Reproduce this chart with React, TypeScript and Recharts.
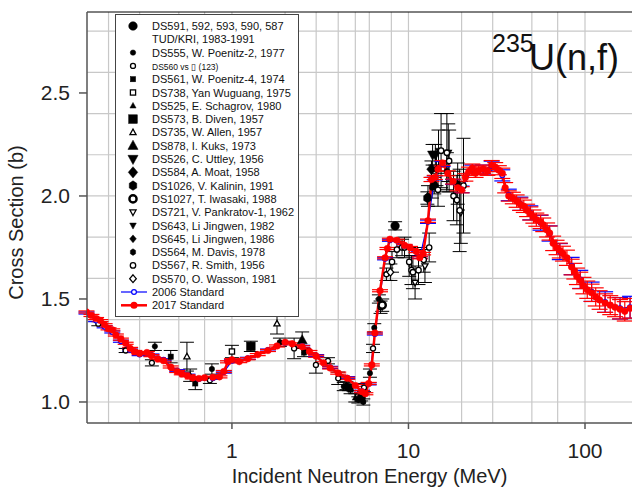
import React from 'react';
import { ComposedChart, Line, Scatter, XAxis, YAxis, CartesianGrid, ErrorBar, ReferenceLine } from 'recharts';

const FONT = '"Liberation Sans", Arial, sans-serif';
const X_MIN = 0.151;
const X_MAX = 184.6;
const Y_MIN = 0.898;
const Y_MAX = 2.893;

const xTicks = [1, 10, 100];
const yTicks = [1.0, 1.5, 2.0, 2.5];
const gridX = [0.2, 0.3, 0.4, 0.5, 0.6, 0.7, 0.8, 0.9, 1, 2, 3, 4, 5, 6, 7, 8, 9, 10, 20, 30, 40, 50, 60, 70, 80, 90, 100];
const gridY = [1.0, 1.1, 1.2, 1.3, 1.4, 1.5, 1.6, 1.7, 1.8, 1.9, 2.0, 2.1, 2.2, 2.3, 2.4, 2.5, 2.6, 2.7, 2.8];

// [energy MeV, cross section b, uncertainty]
const std2017 = [
  [0.15, 1.437, 0.005], [0.16, 1.42, 0.005], [0.17, 1.405, 0.005], [0.18, 1.395, 0.005], [0.19, 1.375, 0.005],
  [0.2, 1.355, 0.005], [0.21, 1.35, 0.005], [0.22, 1.325, 0.005], [0.235, 1.305, 0.005], [0.25, 1.285, 0.005],
  [0.265, 1.26, 0.005], [0.28, 1.245, 0.005], [0.3, 1.235, 0.005], [0.33, 1.24, 0.005], [0.35, 1.225, 0.005],
  [0.38, 1.21, 0.005], [0.41, 1.2, 0.005], [0.45, 1.17, 0.005], [0.49, 1.148, 0.005], [0.52, 1.137, 0.005],
  [0.56, 1.127, 0.005], [0.6, 1.117, 0.005], [0.65, 1.114, 0.005], [0.7, 1.118, 0.005], [0.78, 1.12, 0.005],
  [0.85, 1.122, 0.005], [0.9, 1.148, 0.005], [0.95, 1.195, 0.005], [1.0, 1.205, 0.005], [1.1, 1.196, 0.005],
  [1.23, 1.21, 0.005], [1.4, 1.23, 0.005], [1.6, 1.25, 0.005], [1.8, 1.272, 0.005], [2.0, 1.29, 0.005],
  [2.2, 1.282, 0.005], [2.5, 1.268, 0.005], [2.75, 1.245, 0.005], [3.0, 1.222, 0.005], [3.3, 1.19, 0.005],
  [3.6, 1.165, 0.005], [4.0, 1.14, 0.005], [4.5, 1.115, 0.005], [5.0, 1.08, 0.005], [5.45, 1.05, 0.005],
  [5.7, 1.04, 0.005], [5.95, 1.09, 0.005], [6.2, 1.18, 0.005], [6.45, 1.335, 0.005], [6.9, 1.54, 0.005],
  [7.37, 1.7, 0.005], [7.6, 1.745, 0.005], [7.85, 1.79, 0.005], [8.6, 1.785, 0.005], [9.5, 1.76, 0.005],
  [10.2, 1.75, 0.005], [11.1, 1.73, 0.005], [11.6, 1.7, 0.005], [12.1, 1.72, 0.006], [12.9, 1.88, 0.008],
  [13.5, 2.08, 0.01], [14.1, 2.09, 0.01], [14.7, 2.13, 0.01], [15.6, 2.16, 0.012], [16.7, 2.11, 0.012],
  [17.9, 2.07, 0.012], [19.0, 2.04, 0.015], [20.0, 2.03, 0.015], [21.0, 2.09, 0.018], [22.0, 2.12, 0.02],
  [23.0, 2.135, 0.02], [24.0, 2.11, 0.02], [25.0, 2.125, 0.02], [26.5, 2.13, 0.02], [28.0, 2.12, 0.02],
  [29.6, 2.15, 0.022], [31.0, 2.14, 0.022], [32.5, 2.125, 0.022], [34.0, 2.11, 0.025], [35.3, 2.04, 0.025],
  [37.0, 2.0, 0.025], [39.0, 1.99, 0.028], [41.0, 1.975, 0.03], [43.0, 1.96, 0.03], [45.0, 1.95, 0.03],
  [47.0, 1.93, 0.03], [49.0, 1.915, 0.032], [51.0, 1.9, 0.032], [53.0, 1.885, 0.032], [56.0, 1.875, 0.033],
  [58.0, 1.86, 0.033], [61.0, 1.835, 0.034], [63.0, 1.82, 0.034], [66.0, 1.77, 0.035], [69.0, 1.75, 0.035],
  [72.0, 1.735, 0.036], [75.0, 1.72, 0.036], [79.0, 1.7, 0.037], [84.0, 1.655, 0.038], [87.0, 1.635, 0.038],
  [90.0, 1.61, 0.04], [94.0, 1.59, 0.04], [98.0, 1.565, 0.04], [103.0, 1.545, 0.042], [109.0, 1.53, 0.042],
  [115.0, 1.51, 0.044], [121.0, 1.495, 0.045], [130.0, 1.48, 0.045], [139.0, 1.47, 0.046], [148.0, 1.46, 0.046],
  [158.0, 1.45, 0.047], [168.0, 1.44, 0.047], [180.0, 1.455, 0.048],
];

const std2006 = [
  [0.15, 1.432, 0.005], [0.17, 1.395, 0.005], [0.19, 1.365, 0.005], [0.21, 1.34, 0.005], [0.235, 1.295, 0.005],
  [0.265, 1.252, 0.005], [0.3, 1.23, 0.005], [0.35, 1.228, 0.005], [0.41, 1.205, 0.005], [0.49, 1.152, 0.005],
  [0.56, 1.13, 0.005], [0.65, 1.112, 0.005], [0.78, 1.115, 0.005], [0.9, 1.145, 0.005], [1.0, 1.2, 0.005],
  [1.23, 1.212, 0.005], [1.6, 1.252, 0.005], [2.0, 1.288, 0.005], [2.5, 1.27, 0.005], [3.0, 1.225, 0.005],
  [3.6, 1.168, 0.005], [4.5, 1.118, 0.005], [5.45, 1.052, 0.005], [5.95, 1.088, 0.005], [6.45, 1.33, 0.005],
  [7.37, 1.695, 0.005], [7.85, 1.785, 0.005], [9.5, 1.758, 0.005], [11.6, 1.702, 0.005], [12.9, 1.875, 0.008],
  [14.1, 2.088, 0.01], [15.6, 2.155, 0.012], [17.9, 2.068, 0.012], [20.0, 2.032, 0.016], [23.0, 2.13, 0.02],
  [26.5, 2.128, 0.022], [29.6, 2.145, 0.024], [34.0, 2.1, 0.027], [37.0, 2.005, 0.028], [43.0, 1.962, 0.032],
  [49.0, 1.918, 0.034], [56.0, 1.87, 0.036], [63.0, 1.818, 0.037], [72.0, 1.73, 0.039], [84.0, 1.66, 0.042],
  [94.0, 1.595, 0.044], [109.0, 1.535, 0.047], [130.0, 1.485, 0.05], [158.0, 1.455, 0.052], [180.0, 1.46, 0.053],
];

// experimental data sets
const ds591 = [[8.4, 1.855, 0.02], [4.6, 1.07, 0.015], [5.4, 1.02, 0.015], [14.0, 2.05, 0.04]];
const ds555 = [[0.366, 1.27, 0.02], [0.77, 1.16, 0.025], [1.87, 1.29, 0.02], [4.3, 1.075, 0.02], [4.45, 1.08, 0.02], [5.2, 1.01, 0.015], [5.55, 1.0, 0.015], [6.05, 1.14, 0.02], [6.4, 1.36, 0.02], [6.8, 1.5, 0.02], [12.9, 2.0, 0.05], [13.6, 2.04, 0.05]];
const ds560 = [[0.175, 1.38, 0.01], [0.25, 1.25, 0.01], [0.352, 1.19, 0.015], [0.75, 1.105, 0.015], [2.25, 1.26, 0.05], [2.99, 1.18, 0.04], [3.5, 1.2, 0.015], [4.0, 1.115, 0.03], [5.6, 1.07, 0.02], [6.3, 1.26, 0.02], [6.95, 1.46, 0.03], [7.5, 1.62, 0.03]];
const ds561 = [[0.45, 1.22, 0.03], [0.62, 1.09, 0.03], [2.56, 1.24, 0.02], [4.7, 1.06, 0.02]];
const ds738 = [[1.0, 1.245, 0.03]];
const ds525 = [[0.58, 1.13, 0.03], [5.0, 1.02, 0.02]];
const ds573 = [[1.28, 1.27, 0.025]];
const ds735 = [[0.556, 1.22, 0.07], [1.8, 1.38, 0.05]];
const ds878 = [[2.5, 1.3, 0.04]];
const ds526 = [[13.7, 2.2, 0.05], [14.2, 2.2, 0.05]];
const ds584 = [[13.5, 2.13, 0.04]];
const ds1026 = [[12.8, 1.99, 0.03]];
const ds1027 = [[7.1, 1.47, 0.03]];
const ds721 = [[16.8, 2.21, 0.14], [10.9, 1.58, 0.08], [12.4, 1.66, 0.08], [19.8, 1.92, 0.15]];
const ds643 = [[14.8, 2.22, 0.1]];
const ds645 = [[14.4, 2.13, 0.08]];
const ds564 = [[16.5, 2.12, 0.09], [19.0, 2.06, 0.1]];
const ds567 = [[8.07, 1.68, 0.05], [8.6, 1.74, 0.04], [9.2, 1.75, 0.04], [9.5, 1.75, 0.05], [10.1, 1.68, 0.07], [10.4, 1.64, 0.07], [10.6, 1.63, 0.08], [11.4, 1.64, 0.07], [12.2, 1.69, 0.06], [13.1, 1.75, 0.07], [14.7, 2.03, 0.08], [15.3, 2.22, 0.18], [16.5, 2.21, 0.19], [17.0, 2.17, 0.15], [18.0, 2.0, 0.12], [18.8, 1.98, 0.12], [19.5, 1.93, 0.2], [20.5, 2.05, 0.23]];
const ds570 = [[7.9, 1.63, 0.04]];

const rows = (arr: number[][]) => arr.map(([x, y, err]) => ({ x, y, err }));

const expSeries = [
  { name: 'DS591, 592, 593, 590, 587\nTUD/KRI, 1983-1991', data: ds591, kind: 'circle', r: 4.3, open: false },
  { name: 'DS555, W. Poenitz-2, 1977', data: ds555, kind: 'circle', r: 2.7, open: false },
  { name: 'DS560  vs \u25AF (123)', data: ds560, kind: 'circle', r: 2.5, open: true, small: true },
  { name: 'DS561, W. Poenitz-4, 1974', data: ds561, kind: 'square', r: 2.6, open: false },
  { name: 'DS738, Yan Wuguang, 1975', data: ds738, kind: 'square', r: 2.6, open: true },
  { name: 'DS525, E. Schagrov, 1980', data: ds525, kind: 'tri', r: 2.8, open: false },
  { name: 'DS573, B. Diven, 1957', data: ds573, kind: 'square', r: 4.3, open: false },
  { name: 'DS735, W. Allen, 1957', data: ds735, kind: 'tri', r: 2.8, open: true },
  { name: 'DS878, I. Kuks, 1973', data: ds878, kind: 'tri', r: 4.6, open: false },
  { name: 'DS526, C. Uttley, 1956', data: ds526, kind: 'dtri', r: 4.6, open: false },
  { name: 'DS584, A. Moat, 1958', data: ds584, kind: 'diamond', r: 4.3, open: false },
  { name: 'DS1026, V. Kalinin, 1991', data: ds1026, kind: 'hex', r: 4.3, open: false },
  { name: 'DS1027, T. Iwasaki, 1988', data: ds1027, kind: 'circle', r: 3.6, open: true, thick: true },
  { name: 'DS721, V. Pankratov-1, 1962', data: ds721, kind: 'dtri', r: 2.8, open: true },
  { name: 'DS643, Li Jingwen, 1982', data: ds643, kind: 'dtri', r: 3.0, open: false },
  { name: 'DS645, Li Jingwen, 1986', data: ds645, kind: 'diamond', r: 3.0, open: false },
  { name: 'DS564, M. Davis, 1978', data: ds564, kind: 'hex', r: 3.0, open: false },
  { name: 'DS567, R. Smith, 1956', data: ds567, kind: 'circle', r: 2.7, open: true },
  { name: 'DS570, O. Wasson, 1981', data: ds570, kind: 'diamond', r: 3.0, open: true },
];

function Marker({ kind, cx, cy, r, open, thick }: any) {
  const fill = open ? '#fff' : '#000';
  const sw = open ? (thick ? 2.4 : 1.3) : 0.5;
  const common = { fill, stroke: '#000', strokeWidth: sw };
  if (kind === 'square') return <rect x={cx - r} y={cy - r} width={2 * r} height={2 * r} {...common} />;
  if (kind === 'tri') return <polygon points={`${cx},${cy - r * 1.2} ${cx + r * 1.1},${cy + r * 0.8} ${cx - r * 1.1},${cy + r * 0.8}`} {...common} />;
  if (kind === 'dtri') return <polygon points={`${cx},${cy + r * 1.2} ${cx + r * 1.1},${cy - r * 0.8} ${cx - r * 1.1},${cy - r * 0.8}`} {...common} />;
  if (kind === 'diamond') return <polygon points={`${cx},${cy - r * 1.3} ${cx + r * 1.1},${cy} ${cx},${cy + r * 1.3} ${cx - r * 1.1},${cy}`} {...common} />;
  if (kind === 'hex') {
    const pts = [0, 1, 2, 3, 4, 5].map((i) => {
      const a = (Math.PI / 3) * i + Math.PI / 6;
      return `${cx + r * Math.cos(a)},${cy + r * 1.1 * Math.sin(a)}`;
    });
    return <polygon points={pts.join(' ')} {...common} />;
  }
  return <circle cx={cx} cy={cy} r={r} {...common} />;
}

function Legend() {
  const lh = 13.3;
  let line = 0;
  const items: React.ReactNode[] = [];
  expSeries.forEach((s, i) => {
    const parts = s.name.split('\n');
    const cy = 26 + line * lh;
    items.push(
      <g key={i}>
        <Marker kind={s.kind} cx={133} cy={cy} r={s.r} open={s.open} thick={s.thick} />
        {parts.map((p, j) => (
          <text key={j} x={152} y={cy + j * lh + 4} fontSize={s.small ? 8.5 : 11} fill="#111">{p}</text>
        ))}
      </g>
    );
    line += parts.length;
  });
  const y06 = 26 + line * lh;
  const y17 = y06 + lh;
  return (
    <g fontFamily={FONT}>
      <rect x={115.5} y={14.5} width={183} height={302} fill="#fff" stroke="#444" strokeWidth={1} />
      {items}
      <line x1={121} x2={147} y1={y06} y2={y06} stroke="#0000ff" strokeWidth={1.2} />
      <circle cx={134} cy={y06} r={2.4} fill="#fff" stroke="#0000ff" strokeWidth={1.2} />
      <text x={152} y={y06 + 4} fontSize={11} fill="#111">2006 Standard</text>
      <line x1={121} x2={147} y1={y17} y2={y17} stroke="#ff0000" strokeWidth={2.5} />
      <circle cx={134} cy={y17} r={3.5} fill="#ff0000" />
      <text x={152} y={y17 + 4} fontSize={11} fill="#111">2017 Standard</text>
    </g>
  );
}

export default function App() {
  const axisTick = { fill: '#222', fontSize: 21, fontFamily: FONT };
  return (
    <div style={{ position: 'absolute', left: 0, top: 0, width: 632, height: 488, background: '#fff', overflow: 'hidden' }}>
      <ComposedChart width={632} height={488} margin={{ top: 12, right: 0, bottom: 0, left: 0 }}>
        <CartesianGrid verticalValues={gridX} horizontalValues={gridY} stroke="#c8c8c8" strokeWidth={1.2} />
        <XAxis
          dataKey="x"
          type="number"
          scale="log"
          domain={[X_MIN, X_MAX]}
          allowDataOverflow
          ticks={xTicks}
          tickFormatter={(v: number) => String(v)}
          height={65}
          tickSize={6}
          tickMargin={14}
          tick={axisTick}
          stroke="#555"
          strokeWidth={1.5}
          label={{ value: 'Incident Neutron Energy (MeV)', position: 'insideBottom', offset: 5, dx: 10, style: { fill: '#222', fontSize: 20, fontFamily: FONT } }}
        />
        <YAxis
          dataKey="y"
          type="number"
          domain={[Y_MIN, Y_MAX]}
          allowDataOverflow
          ticks={yTicks}
          tickFormatter={(v: number) => v.toFixed(1)}
          width={87}
          tickSize={8}
          tickMargin={9}
          tick={axisTick}
          stroke="#555"
          strokeWidth={1.5}
          label={{ value: 'Cross Section (b)', angle: -90, position: 'insideLeft', offset: 16, dy: 5, style: { textAnchor: 'middle', fill: '#222', fontSize: 20, fontFamily: FONT } }}
        />
        <ReferenceLine y={Y_MAX} stroke="#000" strokeWidth={1} />
        {expSeries.map((s, i) => (
          <Scatter
            key={i}
            name={s.name}
            data={rows(s.data)}
            dataKey="y"
            isAnimationActive={false}
            shape={(p: any) => <Marker kind={s.kind} cx={p.cx} cy={p.cy} r={s.r} open={s.open} thick={s.thick} />}
          >
            <ErrorBar dataKey="err" direction="y" width={7} stroke="#000" strokeWidth={1} />
          </Scatter>
        ))}
        <Line
          data={rows(std2006)}
          dataKey="y"
          name="2006 Standard"
          stroke="#0000ff"
          strokeWidth={1.2}
          dot={{ r: 2.4, fill: '#fff', stroke: '#0000ff', strokeWidth: 1.2 }}
          activeDot={false}
          isAnimationActive={false}
        >
          <ErrorBar dataKey="err" direction="y" width={8} stroke="#0000ff" strokeWidth={1.2} />
        </Line>
        <Line
          data={rows(std2017)}
          dataKey="y"
          name="2017 Standard"
          stroke="#ff0000"
          strokeWidth={2.5}
          dot={{ r: 3.3, fill: '#ff0000', stroke: '#ff0000', strokeWidth: 0.5 }}
          activeDot={false}
          isAnimationActive={false}
        >
          <ErrorBar dataKey="err" direction="y" width={8} stroke="#ff0000" strokeWidth={1.2} />
        </Line>
      </ComposedChart>
      <svg width={632} height={488} style={{ position: 'absolute', left: 0, top: 0, pointerEvents: 'none' }}>
        <Legend />
        <g fontFamily={FONT} fill="#111">
          <text x={492} y={52} fontSize={25}>235</text>
          <text x={529} y={70} fontSize={36}>U(n,f)</text>
        </g>
      </svg>
    </div>
  );
}
